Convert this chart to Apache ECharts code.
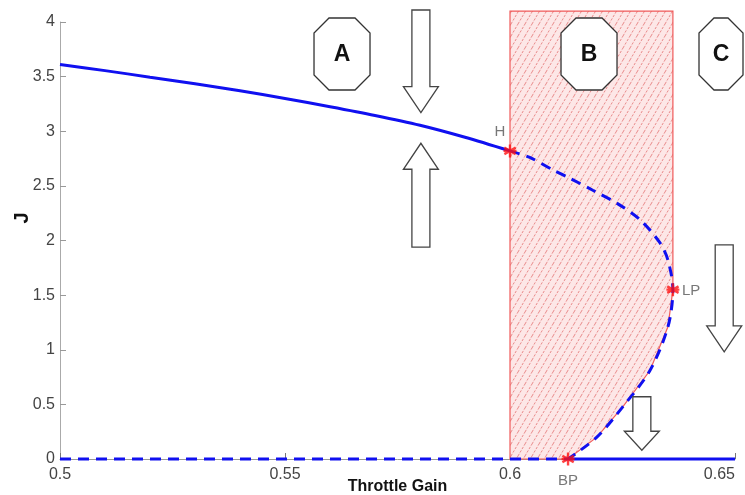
<!DOCTYPE html>
<html>
<head>
<meta charset="utf-8">
<title>Throttle Gain bifurcation</title>
<script src="https://cdn.jsdelivr.net/npm/echarts@6/dist/echarts.min.js"></script>
<style>
  html, body { margin: 0; padding: 0; background: #fff; }
  #chart { width: 745px; height: 495px; }
</style>
</head>
<body>
<div id="chart"></div>
<script>
// Axis ticks
const xTicks = [0.5, 0.55, 0.6, 0.65];
const yTicks = [0, 0.5, 1, 1.5, 2, 2.5, 3, 3.5, 4];

// Stable upper branch (solid), throttle gain -> J
const upperGain = [0.50, 0.51, 0.52, 0.53, 0.54, 0.55, 0.56, 0.57, 0.58, 0.59, 0.60];
const upperJ    = [3.61, 3.555, 3.495, 3.435, 3.37, 3.30, 3.225, 3.145, 3.055, 2.945, 2.82];

// Unstable branch (dashed) from H through LP down to BP
const unstableGain = [0.6, 0.6044, 0.6096, 0.6133, 0.6184, 0.6238, 0.6289, 0.6333, 0.6351, 0.6362, 0.6351, 0.6311, 0.6251, 0.6193, 0.6129];
const unstableJ    = [2.82, 2.76, 2.645, 2.57, 2.46, 2.34, 2.19, 1.98, 1.82, 1.55, 1.21, 0.81, 0.48, 0.2, 0];

// Zero branch: unstable below BP, stable above
const zeroUnstableGain = [0.5, 0.6129];
const zeroStableGain   = [0.6129, 0.65];

// Special points
const pointNames = ['H', 'LP', 'BP'];
const pointGain  = [0.6, 0.6362, 0.6129];
const pointJ     = [2.82, 1.55, 0];

// Region B outline (gain, J), closed along the lower unstable branch
const regionGain = [0.6, 0.6, 0.6362, 0.6362, 0.6351, 0.6311, 0.6251, 0.6193, 0.6129];
const regionJ    = [0, 4.1, 4.1, 1.55, 1.21, 0.81, 0.48, 0.2, 0];

// Flow arrows: gain, tail J, tip J
const arrowGain = [0.5802, 0.5802, 0.6476, 0.6293];
const arrowTail = [4.11, 1.94, 1.96, 0.57];
const arrowTip  = [3.17, 2.89, 0.98, 0.08];

// Region tags
const tagNames = ['A', 'B', 'C'];
const tagGain  = [0.56267, 0.61756, 0.64689];
const tagJ     = [3.707, 3.707, 3.707];

const zip = (a, b) => a.map((v, i) => [v, b[i]]);

// Hatch pattern for region B
function hatchPattern() {
  const c = document.createElement('canvas');
  const w = 7, h = 12;
  c.width = w; c.height = h;
  const g = c.getContext('2d');
  g.fillStyle = 'rgba(253,228,228,0.9)';
  g.fillRect(0, 0, w, h);
  g.strokeStyle = 'rgba(225,110,110,0.75)';
  g.lineWidth = 1;
  g.setLineDash([2.5, 1.5]);
  g.beginPath();
  g.moveTo(0, h); g.lineTo(w, 0);
  g.moveTo(-w, h); g.lineTo(0, 0);
  g.moveTo(w, h); g.lineTo(2 * w, 0);
  g.stroke();
  return c;
}

const BLUE = '#1010f0';
const FONT = 'Liberation Sans, Arial, sans-serif';
const chart = echarts.init(document.getElementById('chart'), null, { renderer: 'canvas' });

const star = 'path://M0,-10L0,10M-8.7,-5L8.7,5M-8.7,5L8.7,-5M-10,0L10,0';

const option = {
  animation: false,
  backgroundColor: '#fff',
  grid: { left: 60, right: 10, top: 22, bottom: 36, containLabel: false, outerBoundsMode: 'none' },
  xAxis: {
    type: 'value',
    min: xTicks[0], max: xTicks[xTicks.length - 1], interval: 0.05,
    name: 'Throttle Gain', nameLocation: 'middle', nameGap: 20, nameMoveOverlap: false,
    nameTextStyle: { fontFamily: FONT, fontSize: 16, fontWeight: 'bold', color: '#111' },
    axisLine: { show: true, lineStyle: { color: '#999', width: 1 } },
    axisTick: { show: true, inside: true, length: 6, lineStyle: { color: '#777' } },
    axisLabel: { fontFamily: FONT, fontSize: 16, color: '#444', margin: 8, alignMaxLabel: 'right',
      formatter: v => String(+v.toFixed(2)) },
    splitLine: { show: false }
  },
  yAxis: {
    type: 'value',
    min: yTicks[0], max: yTicks[yTicks.length - 1], interval: 0.5,
    axisLine: { show: true, lineStyle: { color: '#aaa', width: 1 } },
    axisTick: { show: true, inside: true, length: 6, lineStyle: { color: '#999' } },
    axisLabel: { fontFamily: FONT, fontSize: 16, color: '#444', margin: 5 },
    splitLine: { show: false }
  },
  graphic: [{
    type: 'text', x: 22, y: 218, rotation: Math.PI / 2,
    style: { text: 'J', font: 'bold 20px ' + FONT, fill: '#111', align: 'center', verticalAlign: 'middle' }
  }],
  series: [
    {
      // Region B
      type: 'custom', z: 1, clip: false, silent: true,
      data: [0],
      renderItem: (params, api) => {
        const pts = regionGain.map((g, i) => api.coord([g, regionJ[i]]));
        return {
          type: 'polygon',
          shape: { points: pts },
          style: { fill: { image: hatchPattern(), repeat: 'repeat' }, stroke: '#f05a5a', lineWidth: 1.2 }
        };
      }
    },
    {
      type: 'line', z: 3, showSymbol: false, smooth: 0.3,
      data: zip(upperGain, upperJ),
      lineStyle: { color: BLUE, width: 3 }
    },
    {
      type: 'line', z: 3, showSymbol: false, smooth: 0.3,
      data: zip(unstableGain, unstableJ),
      lineStyle: { color: BLUE, width: 3, type: [10, 7] }
    },
    {
      type: 'line', z: 3, showSymbol: false, clip: false,
      data: zip(zeroUnstableGain, [0, 0]),
      lineStyle: { color: BLUE, width: 3, type: [11, 7] }
    },
    {
      type: 'line', z: 3, showSymbol: false, clip: false,
      data: zip(zeroStableGain, [0, 0]),
      lineStyle: { color: BLUE, width: 3 }
    },
    {
      type: 'scatter', z: 5, clip: false,
      symbol: star, symbolSize: 13,
      itemStyle: { color: '#ff1010', borderColor: '#ff1010', borderWidth: 2.4 },
      data: pointNames.map((n, i) => ({ name: n, value: [pointGain[i], pointJ[i]] })),
      label: {
        show: true, formatter: '{b}', fontFamily: FONT, fontSize: 15, color: '#555',
        position: 'top'
      },
      labelLayout: (p) => {
        const n = pointNames[p.dataIndex];
        const r = p.rect;
        const cx = r.x + r.width / 2, cy = r.y + r.height / 2;
        if (n === 'H') return { x: cx - 10, y: cy - 19, align: 'center', verticalAlign: 'middle' };
        if (n === 'LP') return { x: cx + 9, y: cy + 1, align: 'left', verticalAlign: 'middle' };
        return { x: cx, y: cy + 22, align: 'center', verticalAlign: 'middle' };
      }
    },
    {
      // Flow arrows
      type: 'custom', z: 6, clip: false, silent: true,
      data: arrowGain.map((g, i) => [g, arrowTail[i], arrowTip[i]]),
      renderItem: (params, api) => {
        const tail = api.coord([api.value(0), api.value(1)]);
        const tip = api.coord([api.value(0), api.value(2)]);
        const cx = tail[0], sw = 18, hw = 35;
        const dir = tip[1] > tail[1] ? 1 : -1;
        const hl = params.dataIndex === 3 ? 19 : 26;
        const yb = tip[1] - dir * hl;
        return {
          type: 'polygon',
          shape: { points: [
            [cx - sw / 2, tail[1]], [cx + sw / 2, tail[1]], [cx + sw / 2, yb], [cx + hw / 2, yb],
            [cx, tip[1]], [cx - hw / 2, yb], [cx - sw / 2, yb]
          ] },
          style: { fill: '#fff', stroke: '#444', lineWidth: 1.3 }
        };
      }
    },
    {
      // Region tags
      type: 'custom', z: 6, clip: false, silent: true,
      data: tagGain.map((g, i) => [g, tagJ[i]]),
      renderItem: (params, api) => {
        const c = api.coord([api.value(0), api.value(1)]);
        const w = params.dataIndex === 2 ? 44 : 56, h = 72, k = 15;
        const x0 = c[0] - w / 2, x1 = c[0] + w / 2, y0 = c[1] - h / 2, y1 = c[1] + h / 2;
        return {
          type: 'group',
          children: [{
            type: 'polygon',
            shape: { points: [
              [x0 + k, y0], [x1 - k, y0], [x1, y0 + k], [x1, y1 - k],
              [x1 - k, y1], [x0 + k, y1], [x0, y1 - k], [x0, y0 + k]
            ] },
            style: { fill: '#fff', stroke: '#333', lineWidth: 1.3 }
          }, {
            type: 'text',
            x: c[0], y: c[1] + 1,
            style: { text: tagNames[params.dataIndex], font: 'bold 23px ' + FONT, fill: '#111',
              align: 'center', verticalAlign: 'middle' }
          }]
        };
      }
    }
  ]
};

chart.setOption(option);
</script>
</body>
</html>
